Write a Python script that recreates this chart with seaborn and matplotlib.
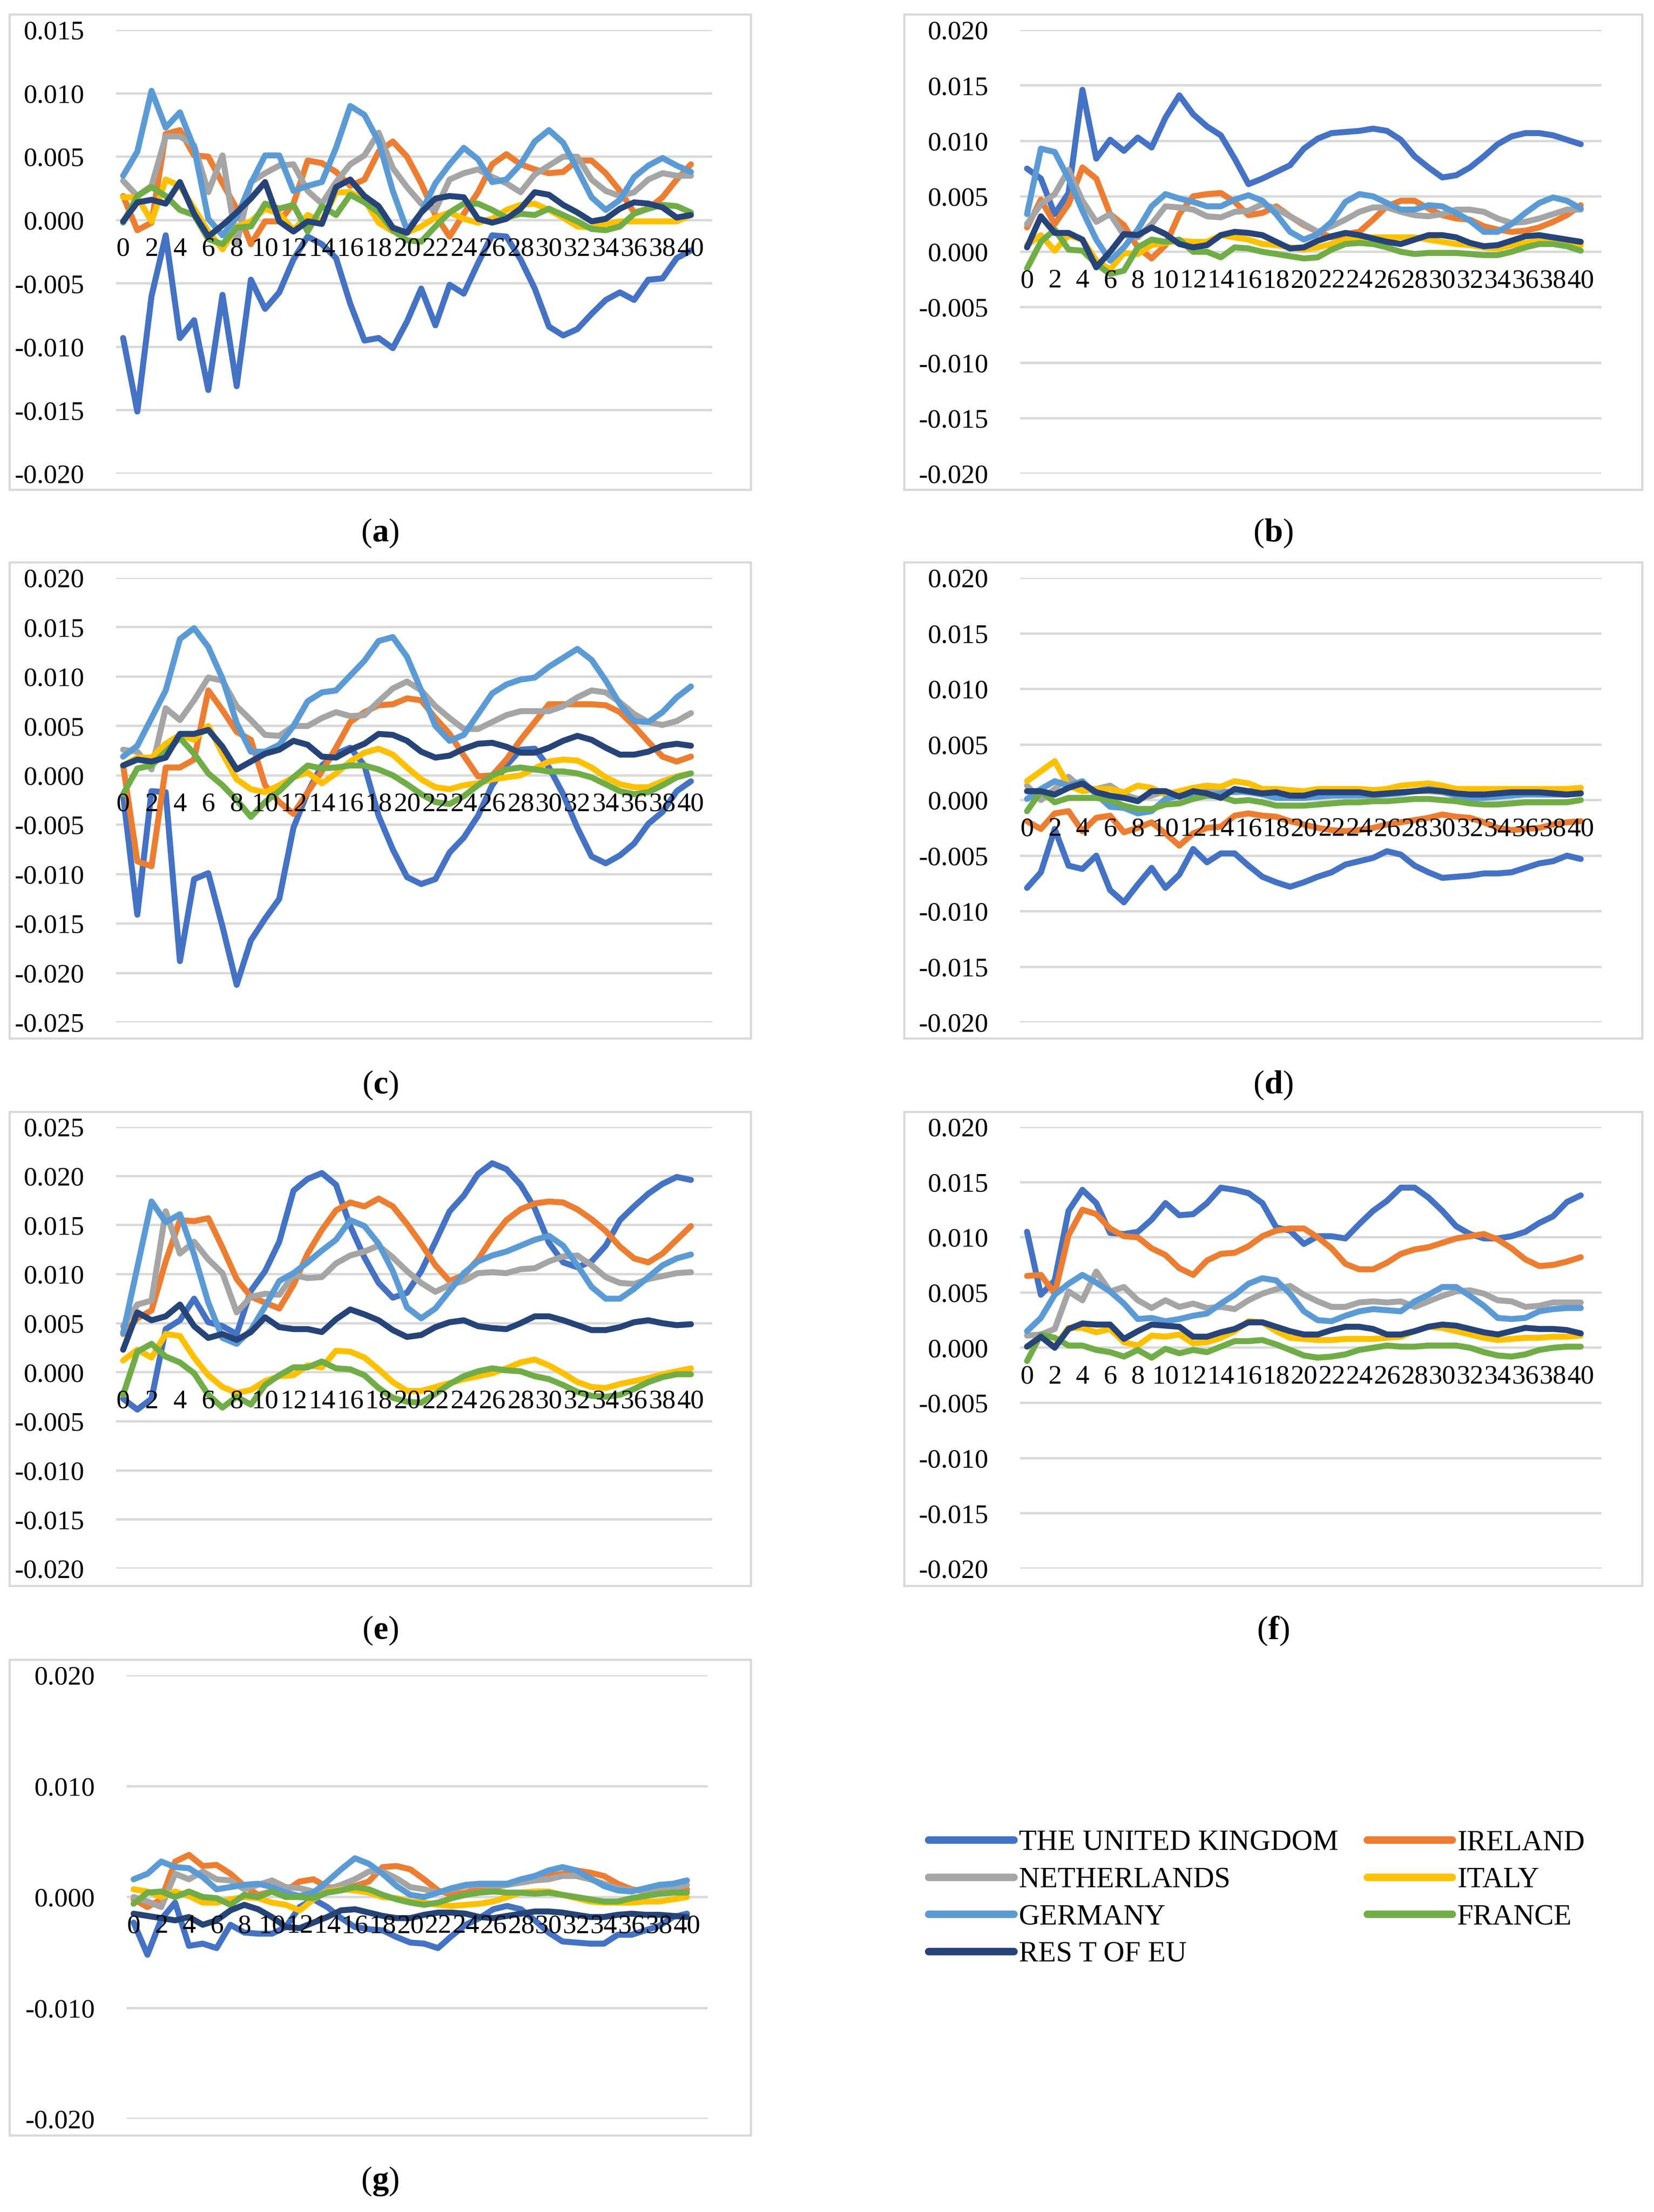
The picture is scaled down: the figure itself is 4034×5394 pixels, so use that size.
import matplotlib
matplotlib.use("Agg")
import numpy as np
import pandas as pd
import matplotlib.pyplot as plt
import seaborn as sns
from matplotlib.ticker import FixedLocator, FuncFormatter
from matplotlib.patches import Rectangle

# ---------------- data ----------------
periods = list(range(41))
x_tick_positions = list(range(0, 41, 2))
x_tick_labels = [str(v) for v in x_tick_positions]
countries = ["THE UNITED KINGDOM", "IRELAND", "NETHERLANDS", "ITALY", "GERMANY", "FRANCE", "RES T OF EU"]
colors = ["#4472C4", "#ED7D31", "#A5A5A5", "#FFC000", "#5B9BD5", "#70AD47", "#264478"]

a_uk = [-0.0093,-0.0151,-0.0060,-0.0012,-0.0093,-0.0079,-0.0134,-0.0059,-0.0131,-0.0047,-0.0070,-0.0057,-0.0031,-0.0013,-0.0019,-0.0030,-0.0066,-0.0095,-0.0093,-0.0101,-0.0080,-0.0054,-0.0083,-0.0051,-0.0058,-0.0034,-0.0012,-0.0013,-0.0031,-0.0054,-0.0084,-0.0091,-0.0086,-0.0074,-0.0063,-0.0057,-0.0063,-0.0047,-0.0046,-0.0030,-0.0024]
a_ie = [0.0019,-0.0008,-0.0002,0.0068,0.0071,0.0051,0.0050,0.0029,0.0009,-0.0019,-0.0001,-0.0001,0.0013,0.0047,0.0045,0.0038,0.0027,0.0032,0.0054,0.0062,0.0050,0.0029,0.0004,-0.0013,0.0005,0.0022,0.0044,0.0052,0.0044,0.0040,0.0037,0.0038,0.0047,0.0047,0.0037,0.0023,0.0006,0.0009,0.0018,0.0032,0.0044]
a_nl = [0.0031,0.0019,0.0027,0.0066,0.0066,0.0059,0.0022,0.0051,-0.0019,0.0030,0.0037,0.0043,0.0044,0.0023,0.0013,0.0030,0.0044,0.0051,0.0069,0.0041,0.0026,0.0013,0.0008,0.0032,0.0037,0.0040,0.0034,0.0029,0.0022,0.0036,0.0043,0.0050,0.0050,0.0032,0.0023,0.0019,0.0022,0.0032,0.0037,0.0035,0.0035]
a_it = [0.0018,0.0018,-0.0001,0.0032,0.0027,0.0009,-0.0009,-0.0023,-0.0005,-0.0001,0.0009,0.0005,-0.0008,0.0004,-0.0001,0.0022,0.0022,0.0016,-0.0002,-0.0009,-0.0010,-0.0005,0.0002,0.0006,0.0001,-0.0002,0.0001,0.0008,0.0012,0.0013,0.0008,0.0002,-0.0005,-0.0006,-0.0003,-0.0001,-0.0001,-0.0001,-0.0001,-0.0001,0.0004]
a_de = [0.0035,0.0054,0.0102,0.0073,0.0085,0.0057,0.0001,-0.0012,0.0002,0.0029,0.0051,0.0051,0.0023,0.0027,0.0030,0.0057,0.0090,0.0083,0.0062,0.0023,-0.0008,0.0006,0.0029,0.0044,0.0057,0.0048,0.0030,0.0032,0.0044,0.0062,0.0071,0.0061,0.0040,0.0018,0.0008,0.0016,0.0034,0.0043,0.0049,0.0043,0.0038]
a_fr = [-0.0002,0.0019,0.0026,0.0019,0.0008,0.0004,-0.0015,-0.0019,-0.0006,-0.0005,0.0013,0.0009,0.0012,-0.0009,0.0011,0.0004,0.0020,0.0014,0.0006,-0.0008,-0.0016,-0.0017,-0.0005,0.0006,0.0013,0.0013,0.0008,0.0002,0.0005,0.0004,0.0009,0.0004,-0.0001,-0.0007,-0.0008,-0.0005,0.0005,0.0009,0.0012,0.0011,0.0006]
a_eu = [-0.0001,0.0014,0.0016,0.0013,0.0030,0.0005,-0.0013,-0.0004,0.0006,0.0017,0.0030,-0.0001,-0.0009,-0.0001,-0.0003,0.0026,0.0032,0.0019,0.0011,-0.0006,-0.0010,0.0006,0.0017,0.0019,0.0018,0.0001,-0.0002,0.0001,0.0009,0.0022,0.0020,0.0012,0.0006,-0.0001,0.0001,0.0009,0.0014,0.0013,0.0010,0.0002,0.0004]

b_uk = [0.0075,0.0066,0.0034,0.0053,0.0146,0.0084,0.0101,0.0091,0.0103,0.0094,0.0121,0.0141,0.0124,0.0113,0.0105,0.0084,0.0061,0.0066,0.0072,0.0078,0.0093,0.0102,0.0107,0.0108,0.0109,0.0111,0.0109,0.0101,0.0086,0.0076,0.0067,0.0069,0.0076,0.0086,0.0097,0.0104,0.0107,0.0107,0.0105,0.0101,0.0097]
b_ie = [0.0022,0.0047,0.0025,0.0043,0.0076,0.0066,0.0034,0.0024,0.0004,-0.0006,0.0006,0.0034,0.0050,0.0052,0.0053,0.0045,0.0033,0.0035,0.0041,0.0032,0.0024,0.0018,0.0013,0.0016,0.0018,0.0029,0.0041,0.0046,0.0046,0.0039,0.0033,0.0030,0.0029,0.0023,0.0020,0.0018,0.0019,0.0022,0.0027,0.0033,0.0042]
b_nl = [0.0025,0.0043,0.0052,0.0074,0.0046,0.0027,0.0034,0.0015,0.0013,0.0025,0.0041,0.0040,0.0038,0.0032,0.0031,0.0036,0.0037,0.0043,0.0039,0.0032,0.0025,0.0018,0.0023,0.0029,0.0036,0.0040,0.0040,0.0036,0.0033,0.0032,0.0034,0.0038,0.0038,0.0036,0.0030,0.0026,0.0027,0.0030,0.0034,0.0038,0.0038]
b_it = [0.0006,0.0015,0.0001,0.0015,0.0011,-0.0008,-0.0016,-0.0001,-0.0002,0.0006,0.0008,0.0010,0.0009,0.0009,0.0015,0.0013,0.0011,0.0007,0.0006,0.0004,0.0002,0.0004,0.0007,0.0011,0.0013,0.0013,0.0013,0.0013,0.0013,0.0011,0.0009,0.0007,0.0006,0.0004,0.0003,0.0006,0.0008,0.0010,0.0010,0.0008,0.0006]
b_de = [0.0034,0.0093,0.0090,0.0066,0.0037,0.0011,-0.0008,0.0004,0.0020,0.0041,0.0052,0.0048,0.0045,0.0041,0.0041,0.0047,0.0051,0.0046,0.0034,0.0018,0.0011,0.0016,0.0027,0.0045,0.0052,0.0050,0.0044,0.0038,0.0038,0.0042,0.0041,0.0035,0.0028,0.0018,0.0018,0.0025,0.0035,0.0044,0.0049,0.0046,0.0039]
b_fr = [-0.0015,0.0009,0.0020,0.0002,0.0001,-0.0011,-0.0020,-0.0017,0.0004,0.0011,0.0009,0.0011,0.0000,0.0000,-0.0005,0.0004,0.0003,0.0000,-0.0002,-0.0004,-0.0006,-0.0005,0.0002,0.0007,0.0008,0.0007,0.0004,0.0000,-0.0002,-0.0001,-0.0001,-0.0001,-0.0002,-0.0003,-0.0003,0.0000,0.0004,0.0007,0.0007,0.0005,0.0001]
b_eu = [0.0004,0.0032,0.0017,0.0017,0.0011,-0.0014,0.0000,0.0016,0.0015,0.0022,0.0016,0.0007,0.0004,0.0006,0.0015,0.0018,0.0017,0.0015,0.0009,0.0003,0.0004,0.0010,0.0014,0.0017,0.0015,0.0012,0.0009,0.0007,0.0011,0.0015,0.0015,0.0013,0.0008,0.0005,0.0006,0.0010,0.0014,0.0015,0.0013,0.0011,0.0009]

c_uk = [-0.0020,-0.0141,-0.0016,-0.0017,-0.0188,-0.0105,-0.0099,-0.0153,-0.0212,-0.0167,-0.0145,-0.0125,-0.0053,-0.0017,0.0010,0.0022,0.0028,0.0010,-0.0041,-0.0075,-0.0103,-0.0110,-0.0105,-0.0078,-0.0063,-0.0041,-0.0010,0.0010,0.0026,0.0027,0.0008,-0.0019,-0.0053,-0.0082,-0.0089,-0.0081,-0.0069,-0.0049,-0.0037,-0.0016,-0.0006]
c_ie = [0.0010,-0.0087,-0.0092,0.0008,0.0008,0.0016,0.0086,0.0066,0.0044,0.0036,-0.0010,-0.0027,-0.0039,-0.0017,0.0004,0.0028,0.0054,0.0064,0.0071,0.0072,0.0078,0.0076,0.0058,0.0042,0.0020,-0.0001,0.0000,0.0016,0.0036,0.0054,0.0072,0.0072,0.0072,0.0072,0.0071,0.0064,0.0050,0.0034,0.0019,0.0014,0.0019]
c_nl = [0.0026,0.0024,0.0006,0.0068,0.0056,0.0076,0.0099,0.0096,0.0070,0.0056,0.0041,0.0040,0.0050,0.0050,0.0058,0.0064,0.0060,0.0061,0.0075,0.0088,0.0095,0.0086,0.0070,0.0058,0.0047,0.0047,0.0054,0.0061,0.0065,0.0065,0.0065,0.0070,0.0079,0.0086,0.0084,0.0074,0.0062,0.0054,0.0051,0.0055,0.0063]
c_it = [0.0010,0.0018,0.0018,0.0032,0.0041,0.0036,0.0050,0.0022,-0.0004,-0.0014,-0.0017,-0.0010,-0.0002,0.0003,-0.0008,0.0002,0.0014,0.0023,0.0027,0.0021,0.0008,-0.0004,-0.0012,-0.0014,-0.0010,-0.0008,-0.0004,-0.0002,0.0000,0.0007,0.0014,0.0016,0.0015,0.0008,-0.0002,-0.0009,-0.0012,-0.0012,-0.0006,-0.0001,0.0002]
c_de = [0.0019,0.0030,0.0058,0.0086,0.0138,0.0149,0.0130,0.0098,0.0053,0.0024,0.0024,0.0031,0.0050,0.0075,0.0084,0.0086,0.0101,0.0116,0.0136,0.0140,0.0120,0.0086,0.0050,0.0035,0.0041,0.0062,0.0083,0.0092,0.0097,0.0099,0.0110,0.0119,0.0128,0.0117,0.0096,0.0072,0.0055,0.0054,0.0064,0.0079,0.0090]
c_fr = [-0.0019,0.0007,0.0010,0.0024,0.0038,0.0022,0.0002,-0.0010,-0.0025,-0.0042,-0.0027,-0.0016,-0.0002,0.0010,0.0007,0.0008,0.0010,0.0010,0.0006,0.0000,-0.0009,-0.0019,-0.0027,-0.0029,-0.0021,-0.0010,0.0000,0.0006,0.0008,0.0006,0.0004,0.0004,0.0002,-0.0002,-0.0009,-0.0016,-0.0019,-0.0017,-0.0010,-0.0002,0.0002]
c_eu = [0.0010,0.0016,0.0014,0.0018,0.0042,0.0042,0.0046,0.0029,0.0006,0.0014,0.0022,0.0026,0.0035,0.0031,0.0019,0.0018,0.0026,0.0032,0.0042,0.0041,0.0035,0.0024,0.0018,0.0020,0.0027,0.0032,0.0033,0.0029,0.0023,0.0023,0.0028,0.0035,0.0040,0.0036,0.0028,0.0021,0.0021,0.0024,0.0030,0.0032,0.0030]

d_uk = [-0.0079,-0.0065,-0.0026,-0.0059,-0.0062,-0.0050,-0.0081,-0.0092,-0.0076,-0.0061,-0.0079,-0.0067,-0.0044,-0.0056,-0.0048,-0.0048,-0.0059,-0.0069,-0.0074,-0.0078,-0.0074,-0.0069,-0.0065,-0.0058,-0.0055,-0.0052,-0.0046,-0.0049,-0.0059,-0.0065,-0.0070,-0.0069,-0.0068,-0.0066,-0.0066,-0.0065,-0.0061,-0.0057,-0.0055,-0.0050,-0.0053]
d_ie = [-0.0019,-0.0026,-0.0012,-0.0010,-0.0028,-0.0016,-0.0014,-0.0029,-0.0025,-0.0020,-0.0030,-0.0041,-0.0030,-0.0025,-0.0024,-0.0014,-0.0012,-0.0014,-0.0015,-0.0019,-0.0022,-0.0025,-0.0027,-0.0028,-0.0027,-0.0025,-0.0022,-0.0020,-0.0018,-0.0016,-0.0013,-0.0015,-0.0016,-0.0020,-0.0025,-0.0027,-0.0026,-0.0025,-0.0022,-0.0020,-0.0019]
d_nl = [0.0013,0.0000,0.0010,0.0021,0.0010,0.0010,0.0013,0.0005,0.0001,0.0004,0.0008,0.0004,0.0004,0.0008,0.0008,0.0007,0.0008,0.0010,0.0005,0.0002,0.0002,0.0004,0.0004,0.0005,0.0004,0.0004,0.0005,0.0007,0.0008,0.0008,0.0007,0.0004,0.0004,0.0005,0.0006,0.0007,0.0006,0.0005,0.0005,0.0005,0.0007]
d_it = [0.0017,0.0026,0.0035,0.0013,0.0008,0.0010,0.0010,0.0007,0.0013,0.0011,0.0005,0.0008,0.0011,0.0013,0.0012,0.0017,0.0015,0.0010,0.0010,0.0009,0.0008,0.0010,0.0010,0.0010,0.0010,0.0009,0.0010,0.0013,0.0014,0.0015,0.0013,0.0010,0.0010,0.0010,0.0010,0.0010,0.0010,0.0010,0.0010,0.0010,0.0011]
d_de = [0.0001,0.0010,0.0017,0.0013,0.0017,0.0005,-0.0006,-0.0007,-0.0012,-0.0010,0.0001,0.0004,0.0006,0.0004,0.0006,0.0008,0.0007,0.0005,0.0002,0.0002,0.0002,0.0003,0.0004,0.0004,0.0004,0.0005,0.0005,0.0006,0.0008,0.0010,0.0008,0.0004,0.0002,0.0002,0.0003,0.0004,0.0005,0.0005,0.0005,0.0005,0.0006]
d_fr = [-0.0010,0.0008,-0.0002,0.0002,0.0002,0.0002,0.0000,-0.0005,-0.0008,-0.0008,-0.0004,-0.0003,0.0001,0.0004,0.0003,-0.0001,0.0000,-0.0002,-0.0005,-0.0005,-0.0005,-0.0004,-0.0003,-0.0002,-0.0002,-0.0001,-0.0001,0.0000,0.0001,0.0001,0.0000,-0.0001,-0.0003,-0.0004,-0.0004,-0.0003,-0.0002,-0.0002,-0.0002,-0.0002,0.0000]
d_eu = [0.0008,0.0008,0.0005,0.0011,0.0015,0.0007,0.0004,0.0002,-0.0001,0.0008,0.0008,0.0003,0.0008,0.0006,0.0002,0.0010,0.0008,0.0006,0.0007,0.0004,0.0004,0.0007,0.0007,0.0007,0.0007,0.0005,0.0006,0.0007,0.0008,0.0009,0.0008,0.0006,0.0005,0.0005,0.0006,0.0007,0.0007,0.0007,0.0006,0.0005,0.0006]

e_uk = [-0.0027,-0.0038,-0.0027,0.0044,0.0053,0.0075,0.0051,0.0047,0.0039,0.0083,0.0103,0.0133,0.0185,0.0197,0.0203,0.0191,0.0149,0.0117,0.0091,0.0076,0.0081,0.0103,0.0133,0.0164,0.0180,0.0202,0.0213,0.0207,0.0191,0.0167,0.0132,0.0112,0.0107,0.0113,0.0129,0.0155,0.0169,0.0182,0.0192,0.0199,0.0196]
e_ie = [0.0039,0.0055,0.0063,0.0113,0.0155,0.0154,0.0157,0.0127,0.0095,0.0077,0.0071,0.0065,0.0089,0.0121,0.0145,0.0165,0.0173,0.0169,0.0177,0.0169,0.0151,0.0131,0.0109,0.0093,0.0099,0.0115,0.0137,0.0155,0.0166,0.0172,0.0174,0.0173,0.0166,0.0156,0.0144,0.0128,0.0116,0.0112,0.0121,0.0135,0.0149]
e_nl = [0.0047,0.0069,0.0073,0.0164,0.0121,0.0133,0.0115,0.0101,0.0061,0.0077,0.0080,0.0079,0.0099,0.0096,0.0097,0.0111,0.0119,0.0123,0.0129,0.0117,0.0103,0.0091,0.0082,0.0089,0.0093,0.0101,0.0102,0.0101,0.0105,0.0106,0.0113,0.0118,0.0119,0.0109,0.0097,0.0091,0.0090,0.0095,0.0098,0.0101,0.0102]
e_it = [0.0012,0.0023,0.0015,0.0039,0.0037,0.0015,-0.0003,-0.0015,-0.0021,-0.0018,-0.0009,-0.0004,-0.0003,0.0007,0.0005,0.0022,0.0021,0.0015,0.0003,-0.0010,-0.0019,-0.0019,-0.0015,-0.0011,-0.0007,-0.0004,-0.0001,0.0004,0.0010,0.0013,0.0007,-0.0001,-0.0010,-0.0015,-0.0016,-0.0012,-0.0009,-0.0006,-0.0002,0.0001,0.0004]
e_de = [0.0040,0.0107,0.0174,0.0153,0.0161,0.0120,0.0071,0.0035,0.0029,0.0043,0.0067,0.0093,0.0101,0.0112,0.0124,0.0135,0.0155,0.0149,0.0131,0.0103,0.0066,0.0055,0.0065,0.0083,0.0101,0.0113,0.0119,0.0123,0.0129,0.0135,0.0139,0.0129,0.0109,0.0087,0.0075,0.0075,0.0085,0.0097,0.0109,0.0116,0.0120]
e_fr = [-0.0023,0.0021,0.0029,0.0016,0.0010,-0.0001,-0.0023,-0.0036,-0.0025,-0.0033,-0.0013,-0.0003,0.0005,0.0005,0.0011,0.0004,0.0003,-0.0003,-0.0016,-0.0026,-0.0030,-0.0031,-0.0022,-0.0012,-0.0004,0.0001,0.0004,0.0002,0.0001,-0.0004,-0.0007,-0.0013,-0.0020,-0.0024,-0.0025,-0.0023,-0.0017,-0.0010,-0.0005,-0.0002,-0.0002]
e_eu = [0.0023,0.0061,0.0053,0.0057,0.0069,0.0047,0.0035,0.0039,0.0033,0.0041,0.0056,0.0046,0.0044,0.0044,0.0041,0.0054,0.0064,0.0059,0.0053,0.0043,0.0036,0.0038,0.0046,0.0051,0.0053,0.0047,0.0045,0.0044,0.0050,0.0057,0.0057,0.0053,0.0048,0.0043,0.0043,0.0046,0.0051,0.0053,0.0050,0.0048,0.0049]

f_uk = [0.0105,0.0048,0.0061,0.0124,0.0143,0.0131,0.0104,0.0103,0.0105,0.0116,0.0131,0.0120,0.0121,0.0131,0.0145,0.0143,0.0140,0.0131,0.0109,0.0106,0.0094,0.0101,0.0101,0.0099,0.0112,0.0124,0.0133,0.0145,0.0145,0.0136,0.0124,0.0110,0.0103,0.0099,0.0099,0.0101,0.0105,0.0113,0.0119,0.0132,0.0138]
f_ie = [0.0065,0.0066,0.0049,0.0102,0.0125,0.0121,0.0108,0.0101,0.0100,0.0090,0.0084,0.0072,0.0066,0.0079,0.0085,0.0086,0.0092,0.0101,0.0106,0.0108,0.0108,0.0100,0.0090,0.0076,0.0071,0.0071,0.0077,0.0085,0.0089,0.0091,0.0095,0.0099,0.0101,0.0103,0.0098,0.0090,0.0080,0.0074,0.0075,0.0078,0.0082]
f_nl = [0.0011,0.0012,0.0017,0.0051,0.0043,0.0069,0.0051,0.0055,0.0043,0.0036,0.0043,0.0037,0.0040,0.0036,0.0037,0.0035,0.0043,0.0049,0.0053,0.0056,0.0048,0.0042,0.0037,0.0037,0.0041,0.0042,0.0041,0.0042,0.0037,0.0042,0.0047,0.0051,0.0052,0.0049,0.0043,0.0042,0.0037,0.0038,0.0041,0.0041,0.0041]
f_it = [0.0001,0.0010,0.0001,0.0018,0.0018,0.0014,0.0017,0.0005,0.0002,0.0011,0.0010,0.0012,0.0004,0.0005,0.0009,0.0015,0.0024,0.0023,0.0015,0.0009,0.0008,0.0007,0.0007,0.0008,0.0008,0.0008,0.0009,0.0010,0.0015,0.0019,0.0018,0.0015,0.0012,0.0009,0.0007,0.0008,0.0009,0.0009,0.0010,0.0010,0.0011]
f_de = [0.0015,0.0027,0.0048,0.0058,0.0066,0.0059,0.0051,0.0040,0.0026,0.0027,0.0024,0.0026,0.0029,0.0031,0.0040,0.0048,0.0058,0.0063,0.0061,0.0049,0.0033,0.0025,0.0024,0.0029,0.0033,0.0035,0.0034,0.0033,0.0042,0.0048,0.0055,0.0055,0.0047,0.0038,0.0027,0.0026,0.0027,0.0033,0.0035,0.0036,0.0036]
f_fr = [-0.0012,0.0012,0.0009,0.0002,0.0002,-0.0002,-0.0004,-0.0008,-0.0002,-0.0009,-0.0001,-0.0005,-0.0002,-0.0004,0.0001,0.0006,0.0006,0.0007,0.0003,-0.0002,-0.0007,-0.0009,-0.0008,-0.0006,-0.0002,0.0000,0.0002,0.0001,0.0001,0.0002,0.0002,0.0002,0.0000,-0.0004,-0.0007,-0.0008,-0.0006,-0.0002,0.0000,0.0001,0.0001]
f_eu = [0.0001,0.0010,0.0000,0.0017,0.0022,0.0021,0.0021,0.0008,0.0015,0.0021,0.0020,0.0019,0.0010,0.0010,0.0014,0.0017,0.0023,0.0023,0.0019,0.0015,0.0012,0.0012,0.0016,0.0019,0.0019,0.0017,0.0012,0.0012,0.0015,0.0019,0.0021,0.0020,0.0017,0.0014,0.0012,0.0015,0.0018,0.0017,0.0017,0.0016,0.0013]

g_uk = [-0.0023,-0.0052,-0.0020,-0.0005,-0.0044,-0.0042,-0.0046,-0.0025,-0.0032,-0.0033,-0.0033,-0.0027,-0.0009,-0.0002,-0.0009,-0.0019,-0.0027,-0.0029,-0.0030,-0.0036,-0.0041,-0.0042,-0.0046,-0.0035,-0.0025,-0.0019,-0.0011,-0.0008,-0.0011,-0.0021,-0.0032,-0.0040,-0.0041,-0.0042,-0.0042,-0.0034,-0.0034,-0.0030,-0.0026,-0.0018,-0.0015]
g_ie = [-0.0002,-0.0009,-0.0002,0.0032,0.0038,0.0028,0.0029,0.0021,0.0010,0.0002,0.0005,0.0006,0.0014,0.0016,0.0009,0.0008,0.0010,0.0014,0.0027,0.0028,0.0025,0.0016,0.0006,0.0002,0.0004,0.0007,0.0009,0.0011,0.0014,0.0017,0.0019,0.0021,0.0024,0.0022,0.0019,0.0012,0.0007,0.0005,0.0005,0.0006,0.0007]
g_nl = [0.0000,-0.0004,-0.0009,0.0021,0.0016,0.0023,0.0016,0.0015,0.0007,0.0011,0.0015,0.0009,0.0008,0.0005,0.0007,0.0011,0.0016,0.0023,0.0023,0.0017,0.0009,0.0007,0.0004,0.0007,0.0010,0.0011,0.0010,0.0011,0.0013,0.0015,0.0016,0.0019,0.0019,0.0016,0.0012,0.0008,0.0006,0.0006,0.0007,0.0008,0.0011]
g_it = [0.0007,0.0005,0.0000,0.0005,0.0001,-0.0005,-0.0005,-0.0002,0.0000,-0.0001,-0.0005,-0.0007,-0.0012,-0.0002,0.0005,0.0007,0.0006,0.0004,0.0000,-0.0001,-0.0004,-0.0005,-0.0007,-0.0008,-0.0007,-0.0006,-0.0004,0.0000,0.0004,0.0005,0.0005,0.0002,-0.0001,-0.0004,-0.0005,-0.0005,-0.0005,-0.0004,-0.0004,-0.0002,0.0000]
g_de = [0.0016,0.0021,0.0032,0.0027,0.0026,0.0018,0.0007,0.0009,0.0011,0.0012,0.0009,0.0004,0.0001,0.0004,0.0014,0.0025,0.0035,0.0030,0.0021,0.0010,0.0002,0.0000,0.0004,0.0008,0.0011,0.0012,0.0012,0.0012,0.0016,0.0019,0.0024,0.0027,0.0024,0.0017,0.0010,0.0006,0.0005,0.0008,0.0011,0.0012,0.0015]
g_fr = [-0.0006,0.0004,0.0005,0.0000,0.0005,0.0000,-0.0001,-0.0007,0.0002,0.0000,0.0005,0.0000,0.0000,-0.0001,0.0004,0.0006,0.0009,0.0007,0.0002,-0.0002,-0.0005,-0.0007,-0.0005,-0.0001,0.0002,0.0004,0.0005,0.0004,0.0004,0.0003,0.0004,0.0002,0.0000,-0.0002,-0.0004,-0.0004,-0.0001,0.0001,0.0003,0.0004,0.0004]
g_eu = [-0.0015,-0.0017,-0.0019,-0.0021,-0.0018,-0.0025,-0.0021,-0.0012,-0.0007,-0.0011,-0.0018,-0.0027,-0.0028,-0.0023,-0.0018,-0.0012,-0.0011,-0.0014,-0.0017,-0.0019,-0.0019,-0.0016,-0.0014,-0.0014,-0.0015,-0.0018,-0.0019,-0.0017,-0.0015,-0.0013,-0.0013,-0.0014,-0.0016,-0.0018,-0.0018,-0.0016,-0.0015,-0.0016,-0.0016,-0.0017,-0.0018]

a_yticks = [0.015, 0.010, 0.005, 0.000, -0.005, -0.010, -0.015, -0.020]
b_yticks = [0.020, 0.015, 0.010, 0.005, 0.000, -0.005, -0.010, -0.015, -0.020]
c_yticks = [0.020, 0.015, 0.010, 0.005, 0.000, -0.005, -0.010, -0.015, -0.020, -0.025]
d_yticks = [0.020, 0.015, 0.010, 0.005, 0.000, -0.005, -0.010, -0.015, -0.020]
e_yticks = [0.025, 0.020, 0.015, 0.010, 0.005, 0.000, -0.005, -0.010, -0.015, -0.020]
f_yticks = [0.020, 0.015, 0.010, 0.005, 0.000, -0.005, -0.010, -0.015, -0.020]
g_yticks = [0.020, 0.010, 0.000, -0.010, -0.020]
panel_letters = ["a", "b", "c", "d", "e", "f", "g"]

panel_series = {
    "a": [a_uk, a_ie, a_nl, a_it, a_de, a_fr, a_eu],
    "b": [b_uk, b_ie, b_nl, b_it, b_de, b_fr, b_eu],
    "c": [c_uk, c_ie, c_nl, c_it, c_de, c_fr, c_eu],
    "d": [d_uk, d_ie, d_nl, d_it, d_de, d_fr, d_eu],
    "e": [e_uk, e_ie, e_nl, e_it, e_de, e_fr, e_eu],
    "f": [f_uk, f_ie, f_nl, f_it, f_de, f_fr, f_eu],
    "g": [g_uk, g_ie, g_nl, g_it, g_de, g_fr, g_eu],
}
panel_yticks = {"a": a_yticks, "b": b_yticks, "c": c_yticks, "d": d_yticks,
                "e": e_yticks, "f": f_yticks, "g": g_yticks}

# ---------------- layout (pixels) ----------------
W, H, DPI = 4034, 5394, 300
# axes: left, top, right, bottom ; box: left, top, right, bottom ; caption centre
layout = {
    "a": dict(ax=(283, 73, 1737, 1155), box=(23, 35, 1831, 1194), cap=(927, 1301)),
    "b": dict(ax=(2488, 73, 3906, 1155), box=(2205, 35, 4005, 1194), cap=(3105, 1301)),
    "c": dict(ax=(283, 1409, 1737, 2493), box=(23, 1371, 1831, 2532), cap=(927, 2647)),
    "d": dict(ax=(2488, 1409, 3906, 2493), box=(2205, 1371, 4005, 2532), cap=(3105, 2647)),
    "e": dict(ax=(283, 2748, 1737, 3825), box=(23, 2711, 1831, 3867), cap=(927, 3977)),
    "f": dict(ax=(2488, 2748, 3906, 3825), box=(2205, 2711, 4005, 3867), cap=(3105, 3977)),
    "g": dict(ax=(309, 4085, 1726, 5167), box=(23, 4047, 1831, 5207), cap=(927, 5320)),
}

sns.set_theme(style="white")
plt.rcParams["font.family"] = ["Liberation Serif", "DejaVu Serif"]
plt.rcParams["axes.unicode_minus"] = False
plt.rcParams["mathtext.fontset"] = "custom"
plt.rcParams["mathtext.rm"] = "Liberation Serif"
plt.rcParams["mathtext.bf"] = "Liberation Serif:bold"
plt.rcParams["text.color"] = "black"
plt.rcParams["xtick.color"] = "black"
plt.rcParams["ytick.color"] = "black"

fig = plt.figure(figsize=(W / DPI, H / DPI), dpi=DPI)
fig.patch.set_facecolor("white")

fmt = FuncFormatter(lambda v, p: "%.3f" % v if abs(v) > 1e-12 else "0.000")
legend_lines = None

for key in panel_letters:
    L = layout[key]
    l, t, r, b = L["ax"]
    ax = fig.add_axes([l / W, 1 - b / H, (r - l) / W, (b - t) / H])
    series = panel_series[key]
    df = pd.DataFrame({
        "period": [p for s in series for p in periods[:len(s)]],
        "value": [v for s in series for v in s],
        "country": [c for c, s in zip(countries, series) for _ in s],
    })
    sns.lineplot(data=df, x="period", y="value", hue="country", hue_order=countries,
                 palette=colors, linewidth=3.5, legend=False, ax=ax, estimator=None,
                 sort=False, solid_joinstyle="round", solid_capstyle="round")
    yt = panel_yticks[key]
    ax.set_xlim(-0.5, 41.5)
    ax.set_ylim(min(yt), max(yt))
    ax.yaxis.set_major_locator(FixedLocator(yt))
    ax.yaxis.set_major_formatter(fmt)
    ax.set_xticks(x_tick_positions)
    ax.set_xticklabels(x_tick_labels)
    for s in ax.spines.values():
        s.set_visible(False)
    ax.spines["bottom"].set_position(("data", 0))
    ax.tick_params(axis="x", length=0, pad=10, labelsize=15.8, colors="black")
    ax.tick_params(axis="y", length=0, pad=18.5, labelsize=15.8, colors="black")
    ax.grid(axis="y", color="#D9D9D9", linewidth=1.4)
    ax.grid(axis="x", visible=False)
    ax.set_axisbelow(True)
    ax.xaxis.set_zorder(3)
    ax.set_xlabel("")
    ax.set_ylabel("")
    ax.patch.set_alpha(0)

    bl, bt, br, bb = L["box"]
    fig.add_artist(Rectangle((bl / W, 1 - bb / H), (br - bl) / W, (bb - bt) / H,
                             transform=fig.transFigure, fill=False,
                             edgecolor="#D9D9D9", linewidth=1.3))
    cx, cy = L["cap"]
    fig.text(cx / W, 1 - cy / H, r"($\mathbf{%s}$)" % key, ha="center", va="center",
             fontsize=19.5, color="black")
    if key == "a":
        legend_lines = ax.get_lines()[:len(countries)]

order = [0, 2, 4, 6, 1, 3, 5]
leg = fig.legend([legend_lines[i] for i in order], [countries[i] for i in order],
                 loc="upper left", bbox_to_anchor=(2265 / W, 1 - 4462 / H), ncol=2,
                 frameon=False, fontsize=17, handlelength=2.93, handletextpad=0.17,
                 columnspacing=1.0, labelspacing=0.36, borderpad=0, borderaxespad=0)
for ln in leg.get_lines():
    ln.set_linewidth(4.4)
    ln.set_solid_capstyle("round")

fig.savefig("out.png", dpi=DPI, facecolor="white")
